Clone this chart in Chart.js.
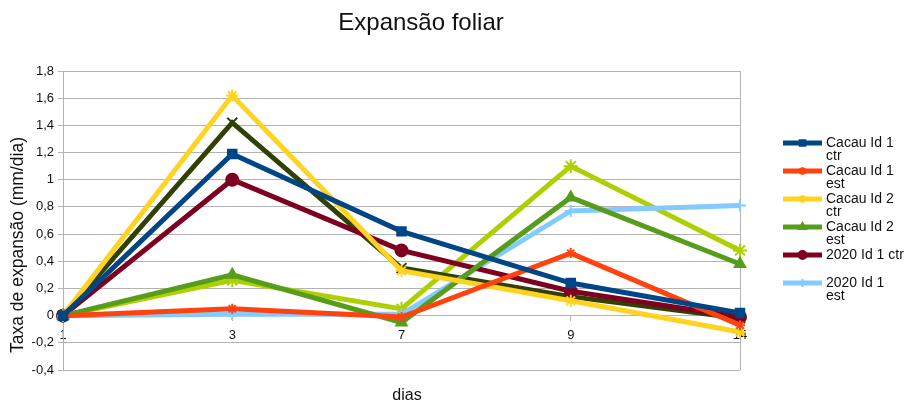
<!DOCTYPE html>
<html>
<head>
<meta charset="utf-8">
<script src="https://cdn.jsdelivr.net/npm/chart.js@4"></script>
<style>
  html, body { margin: 0; padding: 0; background: #fff; }
  #wrap { width: 905px; height: 403px; }
</style>
</head>
<body>
<div id="wrap"><canvas id="chart" width="905" height="403"></canvas></div>
<script>
// dias
const categories = ['1', '3', '7', '9', '14'];

const seriesNames = [
  'Cacau Id 1 ctr', 'Cacau Id 1 est', 'Cacau Id 2 ctr', 'Cacau Id 2 est',
  '2020 Id 1 ctr', '2020 Id 1 est', '2020 Id 2 ctr', '2020 Id 2 est'
];

const cacau1Ctr = [0, 1.19, 0.62, 0.24, 0.02];
const cacau1Est = [0, 0.05, -0.01, 0.46, -0.07];
const cacau2Ctr = [0, 1.62, 0.33, 0.11, -0.12];
const cacau2Est = [0, 0.30, -0.05, 0.87, 0.38];
const ano2020Id1Ctr = [0, 1.00, 0.48, 0.18, -0.01];
const ano2020Id1Est = [0, 0.01, 0.01, 0.77, 0.81];
const ano2020Id2Ctr = [0, 1.42, 0.35, 0.14, -0.02];
const ano2020Id2Est = [0, 0.26, 0.05, 1.10, 0.48];

const yTickLabels = ['-0,4', '-0,2', '0', '0,2', '0,4', '0,6', '0,8', '1', '1,2', '1,4', '1,6', '1,8'];

const FONT = "'Liberation Sans', Arial, sans-serif";
const colors = ['#004586', '#ff420e', '#ffd320', '#579d1c', '#7e0021', '#83caff', '#314004', '#aecf00'];
const markers = ['rect', 'star', 'star', 'triangle', 'circle', 'cross', 'crossRot', 'star'];
const markerSize = [6, 5, 6, 6, 6, 6, 7, 7];
const allSeries = [cacau1Ctr, cacau1Est, cacau2Ctr, cacau2Est, ano2020Id1Ctr, ano2020Id1Est, ano2020Id2Ctr, ano2020Id2Est];

const datasets = allSeries.map((vals, i) => ({
  label: seriesNames[i],
  data: vals,
  borderColor: colors[i],
  backgroundColor: colors[i],
  borderWidth: 5,
  tension: 0,
  pointStyle: markers[i],
  pointRadius: markerSize[i],
  pointBackgroundColor: colors[i],
  pointBorderColor: colors[i],
  pointBorderWidth: 2,
  clip: false,
}));

// right side of the plot frame
const chartAreaBorder = {
  id: 'chartAreaBorder',
  beforeDatasetsDraw: (chart) => {
    const { ctx, chartArea: { top, bottom, right } } = chart;
    ctx.save();
    ctx.strokeStyle = '#b3b3b3';
    ctx.lineWidth = 1;
    ctx.beginPath();
    ctx.moveTo(right + 0.5, top);
    ctx.lineTo(right + 0.5, bottom);
    ctx.stroke();
    ctx.restore();
  }
};

// title, axis titles
const chartTexts = {
  id: 'chartTexts',
  afterDraw: (chart) => {
    const { ctx } = chart;
    ctx.save();
    ctx.fillStyle = '#111';
    ctx.textAlign = 'center';
    ctx.textBaseline = 'middle';
    ctx.font = '24px ' + FONT;
    ctx.fillText('Expansão foliar', 421, 23);
    ctx.font = '16px ' + FONT;
    ctx.fillText('dias', 407, 396);
    ctx.translate(18, 245);
    ctx.rotate(-Math.PI / 2);
    ctx.font = '17.5px ' + FONT;
    ctx.fillText('Taxa de expansão (mm/dia)', 0, 0);
    ctx.restore();
  }
};

// legend on the right, labels wrapped like the original, cut at the bottom
const sideLegend = {
  id: 'sideLegend',
  afterDraw: (chart) => {
    const { ctx } = chart;
    const shown = 6;
    const x0 = 783, x1 = 822, tx = 826;
    let y = 143;
    ctx.save();
    ctx.beginPath();
    ctx.rect(760, 120, 145, 182);
    ctx.clip();
    ctx.font = '14px ' + FONT;
    ctx.textBaseline = 'middle';
    for (let i = 0; i < shown; i++) {
      const ds = chart.data.datasets[i];
      ctx.strokeStyle = ds.borderColor;
      ctx.fillStyle = ds.borderColor;
      ctx.lineWidth = 5;
      ctx.beginPath();
      ctx.moveTo(x0, y);
      ctx.lineTo(x1, y);
      ctx.stroke();
      if (Chart.helpers && Chart.helpers.drawPoint) {
        ctx.lineWidth = 2;
        Chart.helpers.drawPoint(ctx, { pointStyle: ds.pointStyle, radius: 4, rotation: 0, borderWidth: 2 }, (x0 + x1) / 2, y);
      }
      // wrap
      const words = ds.label.split(' ');
      const lines = [];
      let cur = '';
      words.forEach(w => {
        const t = cur ? cur + ' ' + w : w;
        if (ctx.measureText(t).width > 79 && cur) { lines.push(cur); cur = w; } else { cur = t; }
      });
      lines.push(cur);
      ctx.fillStyle = '#111';
      lines.forEach((ln, k) => ctx.fillText(ln, tx, y + k * 13));
      y += 28;
    }
    ctx.restore();
  }
};

new Chart(document.getElementById('chart'), {
  type: 'line',
  data: { labels: categories, datasets: datasets },
  options: {
    responsive: false,
    animation: false,
    layout: { padding: { left: 0, top: 71, right: 165, bottom: 33 } },
    plugins: {
      legend: { display: false },
      title: { display: false },
      tooltip: { enabled: false },
    },
    scales: {
      x: {
        position: { y: 0 },
        offset: false,
        clip: false,
        grid: { drawOnChartArea: false, color: '#b3b3b3', tickLength: 5 },
        border: { display: false },
        ticks: { color: '#111', font: { family: FONT, size: 13 }, padding: 7, maxRotation: 0 },
      },
      y: {
        min: -0.4,
        max: 1.8,
        afterFit: (scale) => { scale.width = 63; },
        grid: { color: '#b3b3b3', tickLength: 5 },
        border: { display: true, color: '#b3b3b3' },
        ticks: {
          stepSize: 0.2,
          color: '#111',
          font: { family: FONT, size: 13 },
          padding: 4,
          callback: (v) => yTickLabels[Math.round((v + 0.4) / 0.2)],
        },
      },
    },
  },
  plugins: [chartAreaBorder, chartTexts, sideLegend],
});
</script>
</body>
</html>
